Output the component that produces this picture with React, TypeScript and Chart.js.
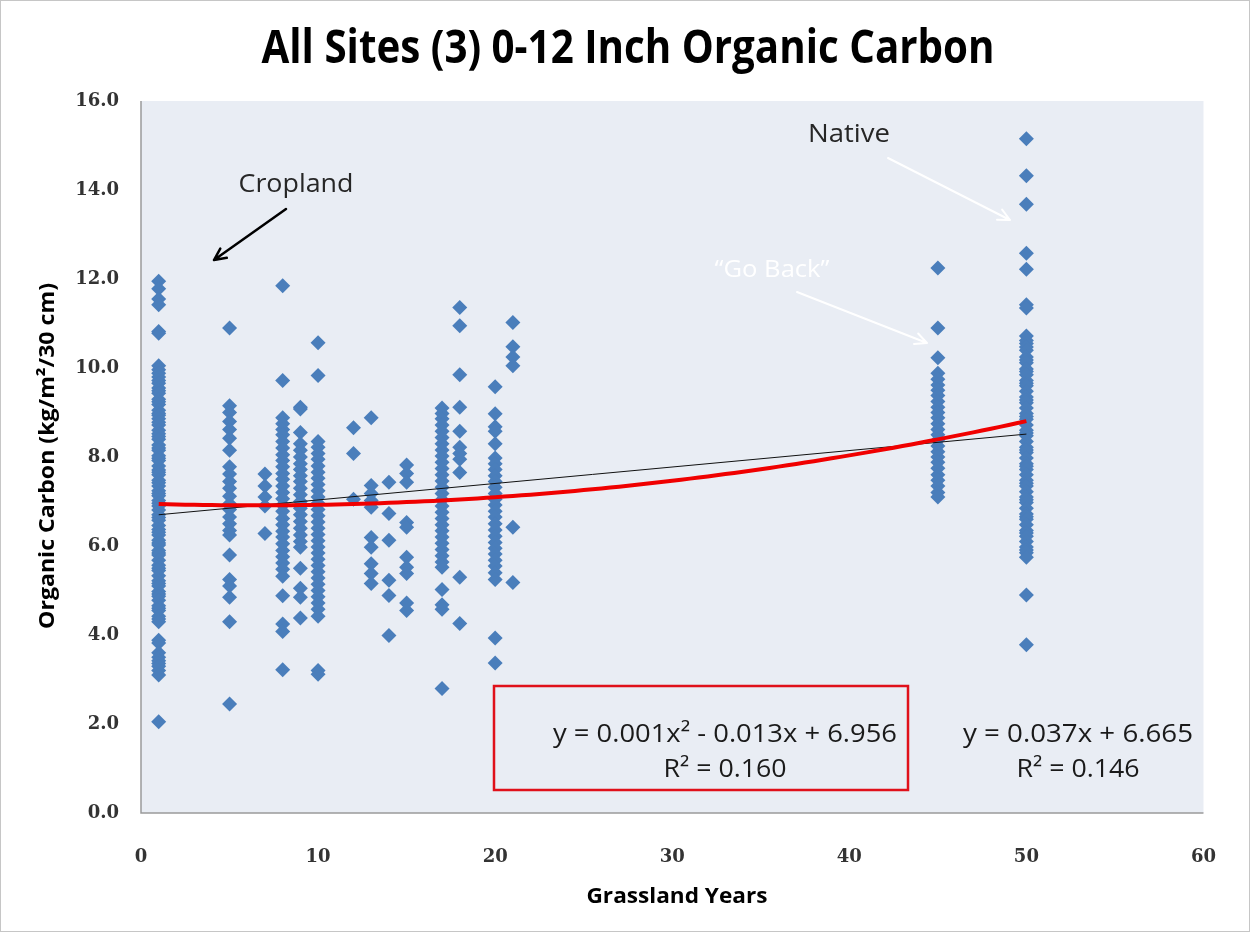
import React, { useEffect, useRef } from 'react';
import { Chart, registerables } from 'chart.js';

Chart.register(...registerables);

// ---- Data: organic carbon (kg/m2/30 cm) per grassland-years group ----
const yr1 = [11.95, 11.78, 11.55, 11.42, 10.82, 10.78, 10.05, 9.96, 9.88, 9.8, 9.72, 9.66, 9.55, 9.49, 9.43, 9.3, 9.24, 9.18, 9.05, 8.98, 8.94, 8.86, 8.78, 8.72, 8.6, 8.52, 8.46, 8.4, 8.27, 8.2, 8.15, 8.03, 7.97, 7.92, 7.8, 7.71, 7.66, 7.6, 7.48, 7.42, 7.35, 7.24, 7.18, 7.13, 7.02, 6.96, 6.9, 6.81, 6.7, 6.64, 6.58, 6.46, 6.37, 6.31, 6.25, 6.13, 6.07, 6.02, 5.9, 5.84, 5.8, 5.68, 5.57, 5.5, 5.45, 5.33, 5.22, 5.16, 5.1, 4.98, 4.92, 4.87, 4.78, 4.66, 4.6, 4.55, 4.42, 4.36, 4.3, 3.88, 3.82, 3.6, 3.5, 3.42, 3.36, 3.3, 3.2, 3.1, 2.05];
const yr5 = [10.9, 9.15, 9.0, 8.8, 8.62, 8.42, 8.15, 7.78, 7.62, 7.45, 7.3, 7.12, 6.95, 6.82, 6.65, 6.5, 6.35, 6.25, 5.8, 5.25, 5.1, 4.85, 4.3, 2.45];
const yr7 = [7.62, 7.35, 7.1, 6.9, 6.28];
const yr8 = [11.85, 9.72, 8.88, 8.75, 8.62, 8.5, 8.35, 8.2, 8.05, 7.92, 7.78, 7.63, 7.5, 7.35, 7.2, 7.06, 6.92, 6.78, 6.62, 6.48, 6.33, 6.2, 6.05, 5.9, 5.76, 5.62, 5.48, 5.32, 4.88, 4.25, 4.08, 3.22];
const yr9 = [9.12, 9.08, 8.55, 8.3, 8.15, 8.0, 7.85, 7.72, 7.58, 7.45, 7.3, 7.15, 7.0, 6.85, 6.7, 6.55, 6.4, 6.25, 6.1, 5.97, 5.5, 5.05, 4.85, 4.38];
const yr10 = [10.57, 9.83, 8.35, 8.22, 8.08, 7.95, 7.8, 7.66, 7.52, 7.38, 7.24, 7.1, 6.96, 6.82, 6.68, 6.54, 6.4, 6.26, 6.12, 5.98, 5.84, 5.7, 5.56, 5.42, 5.28, 5.14, 5.0, 4.86, 4.72, 4.58, 4.42, 3.2, 3.12];
const yr12 = [8.66, 8.08, 7.05];
const yr13 = [8.88, 7.36, 7.18, 7.02, 6.87, 6.19, 5.97, 5.6, 5.38, 5.16];
const yr14 = [7.43, 6.73, 6.13, 5.23, 4.89, 3.99];
const yr15 = [7.82, 7.63, 7.43, 6.53, 6.42, 5.75, 5.52, 5.38, 4.72, 4.55];
const yr17 = [9.1, 8.98, 8.86, 8.72, 8.58, 8.44, 8.3, 8.16, 8.02, 7.88, 7.74, 7.6, 7.46, 7.32, 7.18, 7.04, 6.9, 6.76, 6.62, 6.48, 6.34, 6.2, 6.06, 5.92, 5.78, 5.64, 5.52, 5.02, 4.68, 4.58, 2.8];
const yr18 = [11.36, 10.95, 9.85, 9.12, 8.58, 8.22, 8.08, 7.95, 7.65, 5.3, 4.26];
const yr20 = [9.58, 8.97, 8.68, 8.58, 8.3, 7.98, 7.85, 7.72, 7.58, 7.45, 7.32, 7.18, 7.05, 6.92, 6.78, 6.65, 6.5, 6.36, 6.22, 6.08, 5.95, 5.82, 5.68, 5.55, 5.4, 5.25, 3.93, 3.37];
const yr21 = [11.02, 10.48, 10.25, 10.05, 6.42, 5.18];
const yr45 = [12.25, 10.9, 10.23, 9.88, 9.75, 9.62, 9.5, 9.38, 9.25, 9.12, 9.0, 8.88, 8.75, 8.62, 8.5, 8.38, 8.25, 8.12, 8.0, 7.88, 7.75, 7.6, 7.48, 7.35, 7.2, 7.1];
const yr50 = [15.15, 14.32, 13.68, 12.58, 12.22, 11.42, 11.35, 10.72, 10.62, 10.55, 10.47, 10.4, 10.25, 10.18, 10.12, 9.98, 9.92, 9.85, 9.72, 9.66, 9.6, 9.48, 9.35, 9.28, 9.22, 9.1, 8.98, 8.91, 8.85, 8.72, 8.6, 8.54, 8.48, 8.35, 8.22, 8.16, 8.1, 7.98, 7.85, 7.79, 7.72, 7.6, 7.48, 7.41, 7.35, 7.22, 7.1, 7.04, 6.98, 6.85, 6.72, 6.66, 6.6, 6.48, 6.35, 6.29, 6.22, 6.1, 5.98, 5.91, 5.85, 5.75, 4.9, 3.78];

const groupYears = [1, 5, 7, 8, 9, 10, 12, 13, 14, 15, 17, 18, 20, 21, 45, 50];
const groupValues = [yr1, yr5, yr7, yr8, yr9, yr10, yr12, yr13, yr14, yr15, yr17, yr18, yr20, yr21, yr45, yr50];

// Trendline equations shown on the chart
const polyCoef = [0.001, -0.013, 6.956]; // a x^2 + b x + c
const linCoef = [0.037, 6.665]; // m x + k
const trendRange = [1, 50];

const xTickStep = 10;
const yTickStep = 2;
const xRange = [0, 60];
const yRange = [0, 16];

const titleText = 'All Sites (3) 0-12 Inch Organic Carbon';
const xTitle = 'Grassland Years';
const yTitle = 'Organic Carbon (kg/m\u00B2/30 cm)';
const polyEq = ['y = 0.001x\u00B2 - 0.013x + 6.956', 'R\u00B2 = 0.160'];
const linEq = ['y = 0.037x + 6.665', 'R\u00B2 = 0.146'];

function fitText(ctx: CanvasRenderingContext2D, text: string, cx: number, by: number, width: number, font: string, color: string, rotate = false) {
  ctx.save();
  ctx.font = font;
  const m = ctx.measureText(text).width;
  const s = width / m;
  ctx.translate(cx, by);
  if (rotate) ctx.rotate(-Math.PI / 2);
  ctx.scale(s, 1);
  ctx.fillStyle = color;
  ctx.textAlign = 'center';
  ctx.textBaseline = rotate ? 'middle' : 'alphabetic';
  ctx.fillText(text, 0, 0);
  ctx.restore();
}

function arrow(ctx: CanvasRenderingContext2D, x1: number, y1: number, x2: number, y2: number, color: string, w: number) {
  ctx.save();
  ctx.strokeStyle = color;
  ctx.lineWidth = w;
  ctx.lineCap = 'round';
  ctx.lineJoin = 'round';
  ctx.beginPath();
  ctx.moveTo(x1, y1);
  ctx.lineTo(x2, y2);
  const a = Math.atan2(y2 - y1, x2 - x1);
  const L = 13;
  const sp = 0.45;
  ctx.moveTo(x2 - L * Math.cos(a - sp), y2 - L * Math.sin(a - sp));
  ctx.lineTo(x2, y2);
  ctx.lineTo(x2 - L * Math.cos(a + sp), y2 - L * Math.sin(a + sp));
  ctx.stroke();
  ctx.restore();
}

const SANS = '"Open Sans", "Noto Sans", sans-serif';

const decorPlugin = {
  id: 'decor',
  beforeDraw(chart: any) {
    const { ctx, chartArea: a, width, height } = chart;
    ctx.save();
    ctx.fillStyle = '#FFFFFF';
    ctx.fillRect(0, 0, width, height);
    ctx.fillStyle = '#E9EDF4';
    ctx.fillRect(a.left, a.top, a.right - a.left, a.bottom - a.top);
    ctx.strokeStyle = '#C6C6C6';
    ctx.lineWidth = 1;
    ctx.strokeRect(0.5, 0.5, width - 1, height - 1);
    ctx.restore();
  },
  beforeDatasetsDraw(chart: any) {
    const { ctx, chartArea: a } = chart;
    ctx.save();
    ctx.strokeStyle = '#9A9A9A';
    ctx.lineWidth = 1.5;
    ctx.beginPath();
    ctx.moveTo(a.left, a.top);
    ctx.lineTo(a.left, a.bottom);
    ctx.lineTo(a.right, a.bottom);
    ctx.stroke();
    ctx.restore();
  },
  afterDraw(chart: any) {
    const { ctx } = chart;
    // titles
    fitText(ctx, titleText, 628, 63, 733, `bold 47px ${SANS}`, '#000000');
    fitText(ctx, xTitle, 677, 903, 181, `bold 21px ${SANS}`, '#000000');
    fitText(ctx, yTitle, 48, 456, 346, `bold 21px ${SANS}`, '#000000', true);
    // annotations
    fitText(ctx, 'Cropland', 296, 192, 115, `26px ${SANS}`, '#262626');
    arrow(ctx, 286, 209, 214, 260, '#000000', 2.5);
    fitText(ctx, 'Native', 849, 142, 82, `26px ${SANS}`, '#262626');
    arrow(ctx, 888, 158, 1010, 220, '#FFFFFF', 2);
    fitText(ctx, '\u201CGo Back\u201D', 772, 277, 115, `24px ${SANS}`, '#FFFFFF');
    arrow(ctx, 797, 292, 927, 343, '#FFFFFF', 2);
    // equation box
    ctx.save();
    ctx.strokeStyle = '#E0101A';
    ctx.lineWidth = 2.5;
    ctx.strokeRect(494, 686, 414, 104);
    ctx.restore();
    fitText(ctx, polyEq[0], 725, 742, 344, `25px ${SANS}`, '#1A1A1A');
    fitText(ctx, polyEq[1], 725, 777, 123, `25px ${SANS}`, '#1A1A1A');
    fitText(ctx, linEq[0], 1078, 742, 230, `25px ${SANS}`, '#1A1A1A');
    fitText(ctx, linEq[1], 1078, 777, 123, `25px ${SANS}`, '#1A1A1A');
  },
};

export default function App() {
  const ref = useRef<HTMLCanvasElement | null>(null);
  useEffect(() => {
    if (!ref.current) return;
    const points: { x: number; y: number }[] = [];
    groupYears.forEach((yr, i) => {
      groupValues[i].forEach((v) => points.push({ x: yr, y: v }));
    });
    const polyPts: { x: number; y: number }[] = [];
    const linPts: { x: number; y: number }[] = [];
    for (let x = trendRange[0]; x <= trendRange[1]; x += 0.5) {
      polyPts.push({ x, y: polyCoef[0] * x * x + polyCoef[1] * x + polyCoef[2] });
    }
    linPts.push({ x: trendRange[0], y: linCoef[0] * trendRange[0] + linCoef[1] });
    linPts.push({ x: trendRange[1], y: linCoef[0] * trendRange[1] + linCoef[1] });

    const tickFont = { family: '"DejaVu Serif", serif', size: 18, weight: 'bold' as const };
    const chart = new Chart(ref.current, {
      type: 'scatter',
      data: {
        datasets: [
          {
            label: 'Poly',
            type: 'line',
            data: polyPts,
            borderColor: '#F00000',
            borderWidth: 4,
            pointRadius: 0,
            tension: 0,
            fill: false,
            order: 0,
          } as any,
          {
            label: 'Linear',
            type: 'line',
            data: linPts,
            borderColor: '#111111',
            borderWidth: 1,
            pointRadius: 0,
            fill: false,
            order: 1,
          } as any,
          {
            label: 'Organic Carbon',
            data: points,
            pointStyle: 'rectRot',
            pointRadius: 7.5,
            pointBorderWidth: 0,
            backgroundColor: '#4A7EBB',
            borderColor: '#4A7EBB',
            order: 2,
          } as any,
        ],
      },
      options: {
        responsive: false,
        maintainAspectRatio: false,
        animation: false,
        events: [],
        layout: { padding: { top: 101, right: 30, left: 0, bottom: 0 } },
        scales: {
          x: {
            type: 'linear',
            min: xRange[0],
            max: xRange[1],
            afterFit: (s: any) => { s.height = 119; },
            ticks: { stepSize: xTickStep, padding: 34, font: tickFont, color: '#333333', maxRotation: 0 },
            grid: { display: false, drawTicks: false },
            border: { display: false },
          },
          y: {
            type: 'linear',
            min: yRange[0],
            max: yRange[1],
            afterFit: (s: any) => { s.width = 141; },
            ticks: { stepSize: yTickStep, padding: 22, font: tickFont, color: '#333333', callback: (v: any) => Number(v).toFixed(1) },
            grid: { display: false, drawTicks: false },
            border: { display: false },
          },
        },
        plugins: {
          legend: { display: false },
          tooltip: { enabled: false },
          title: { display: false },
        },
      },
      plugins: [decorPlugin],
    });
    return () => chart.destroy();
  }, []);
  return (
    <div style={{ position: 'absolute', left: 0, top: 0, width: 1250, height: 932 }}>
      <canvas ref={ref} width={1250} height={932} style={{ display: 'block', width: 1250, height: 932 }} />
    </div>
  );
}
